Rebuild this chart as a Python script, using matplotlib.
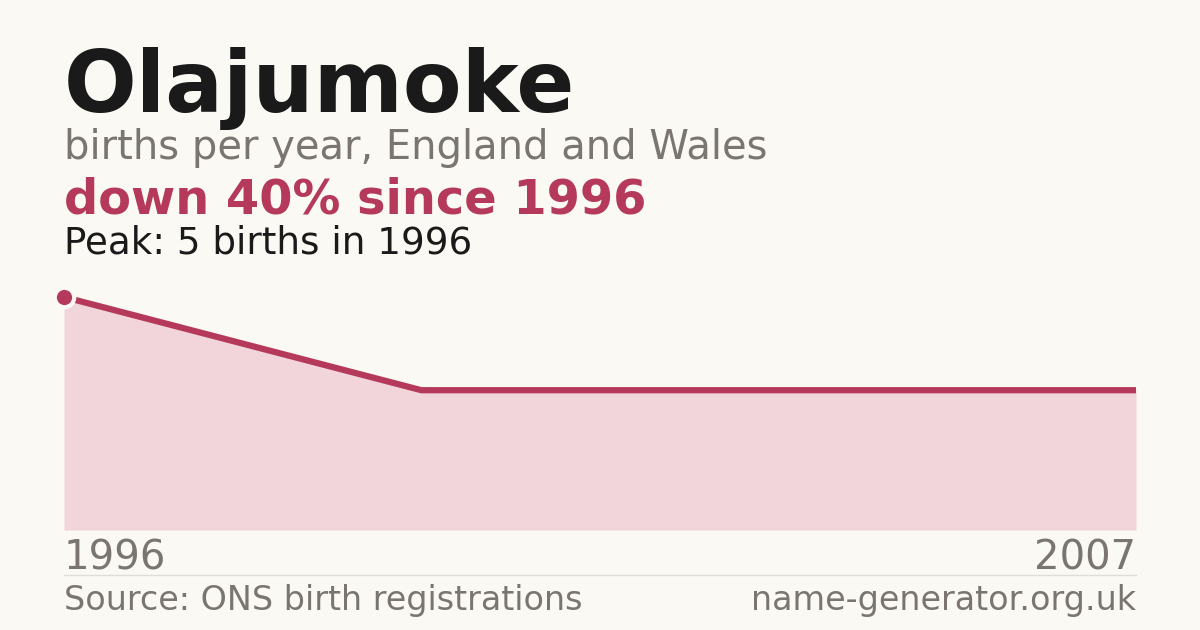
import matplotlib.pyplot as plt

# dados
anos = [1996, 2000, 2003, 2007]
nascimentos = [5, 3, 3, 3]
rotulos_x = ["1996", "2007"]

bg = "#faf9f4"
vermelho = "#b5395a"
rosa = "#f1d5da"
cinza = "#7a7570"

fig = plt.figure(figsize=(12, 6.3), dpi=100, facecolor=bg)
ax = fig.add_axes([64/1200, 100/630, 1072/1200, 233/630])
ax.set_facecolor(bg)

x = list(range(len(anos)))
ax.fill_between(x, nascimentos, 0, color=rosa, linewidth=0)
ax.plot(x, nascimentos, color=vermelho, linewidth=4.5, solid_capstyle="butt", clip_on=False)
ax.plot(x[0], nascimentos[0], "o", color=vermelho, markersize=14,
        markeredgecolor=bg, markeredgewidth=3, clip_on=False, zorder=5)

ax.set_xlim(0, len(anos) - 1)
ax.set_ylim(0, max(nascimentos))
ax.axis("off")

# textos
fig.text(64/1200, 1 - 112/630, "Olajumoke", fontsize=61.7, fontweight="bold", color="#1a1a1a", va="baseline")
fig.text(64/1200, 1 - 159/630, "births per year, England and Wales", fontsize=28.8, color=cinza, va="baseline")
fig.text(64/1200, 1 - 214/630, "down 40% since 1996", fontsize=34.5, fontweight="bold", color=vermelho, va="baseline")
fig.text(64/1200, 1 - 253/630, "Peak: 5 births in 1996", fontsize=26.8, color="#1a1a1a", va="baseline")

fig.text(64/1200, 1 - 569/630, rotulos_x[0], fontsize=28.9, color=cinza, va="baseline")
fig.text(1136/1200, 1 - 569/630, rotulos_x[1], fontsize=28.9, color=cinza, va="baseline", ha="right")

fig.add_artist(plt.Line2D([64/1200, 1136/1200], [1 - 574.5/630, 1 - 574.5/630], color="#e0ddd5", linewidth=1))

fig.text(64/1200, 1 - 610/630, "Source: ONS birth registrations", fontsize=24, color=cinza, va="baseline")
fig.text(1136/1200, 1 - 610/630, "name-generator.org.uk", fontsize=24, color=cinza, va="baseline", ha="right")

fig.savefig("out.png", dpi=100, facecolor=bg)
